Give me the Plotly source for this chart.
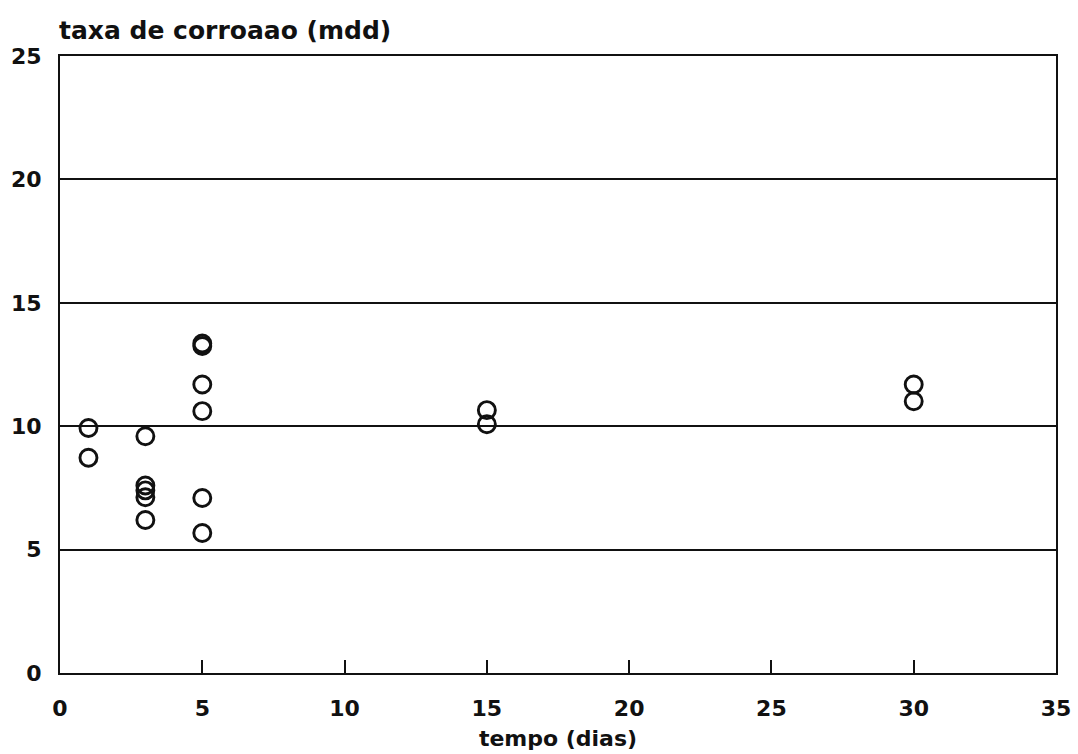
import plotly.graph_objects as go

# Corrosion rate measurements (mdd) by exposure time (days)
tempo_dias = [1, 1, 3, 3, 3, 3, 3, 5, 5, 5, 5, 5, 5, 15, 15, 30, 30]
taxa_corrosao = [9.93, 8.72, 9.59, 7.6, 7.4, 7.12, 6.2,
                 13.35, 13.25, 11.69, 10.61, 7.09, 5.67,
                 10.65, 10.08, 11.69, 11.01]

x_ticks = [0, 5, 10, 15, 20, 25, 30, 35]
y_ticks = [0, 5, 10, 15, 20, 25]

FONT = "DejaVu Sans"
INK = "#111111"
label_font = dict(family=FONT, size=22, color=INK, weight="bold")

fig = go.Figure()
fig.add_trace(go.Scatter(
    x=tempo_dias, y=taxa_corrosao, mode="markers",
    marker=dict(symbol="circle-open", size=17, color=INK,
                line=dict(width=2.9, color=INK)),
    showlegend=False, cliponaxis=False,
))

fig.update_layout(
    width=1078, height=754,
    margin=dict(l=60, r=22, t=56, b=81),
    paper_bgcolor="white", plot_bgcolor="white",
    font=label_font,
    xaxis=dict(
        range=[0, 35], tickvals=x_ticks, ticktext=[str(v) for v in x_ticks],
        showgrid=False, zeroline=False, automargin=False,
        showline=True, linecolor=INK, linewidth=2, mirror=True,
        ticks="inside", ticklen=13, tickwidth=2, tickcolor=INK,
        ticklabelstandoff=15,
        tickfont=label_font,
        title=dict(text="tempo (dias)", standoff=10, font=label_font),
    ),
    yaxis=dict(
        range=[0, 25], tickvals=y_ticks, ticktext=[str(v) for v in y_ticks],
        showgrid=True, gridcolor=INK, gridwidth=1.6, zeroline=False,
        automargin=False,
        showline=True, linecolor=INK, linewidth=2, mirror=True,
        ticks="", ticklabelstandoff=12,
        tickfont=label_font,
    ),
    annotations=[dict(
        text="taxa de corroaao (mdd)", xref="paper", yref="paper",
        x=0, y=1, xanchor="left", yanchor="bottom", yshift=9, xshift=-3,
        showarrow=False,
        font=dict(family=FONT, size=25, color=INK, weight="bold"),
    )],
)

fig.write_html("out.html")
